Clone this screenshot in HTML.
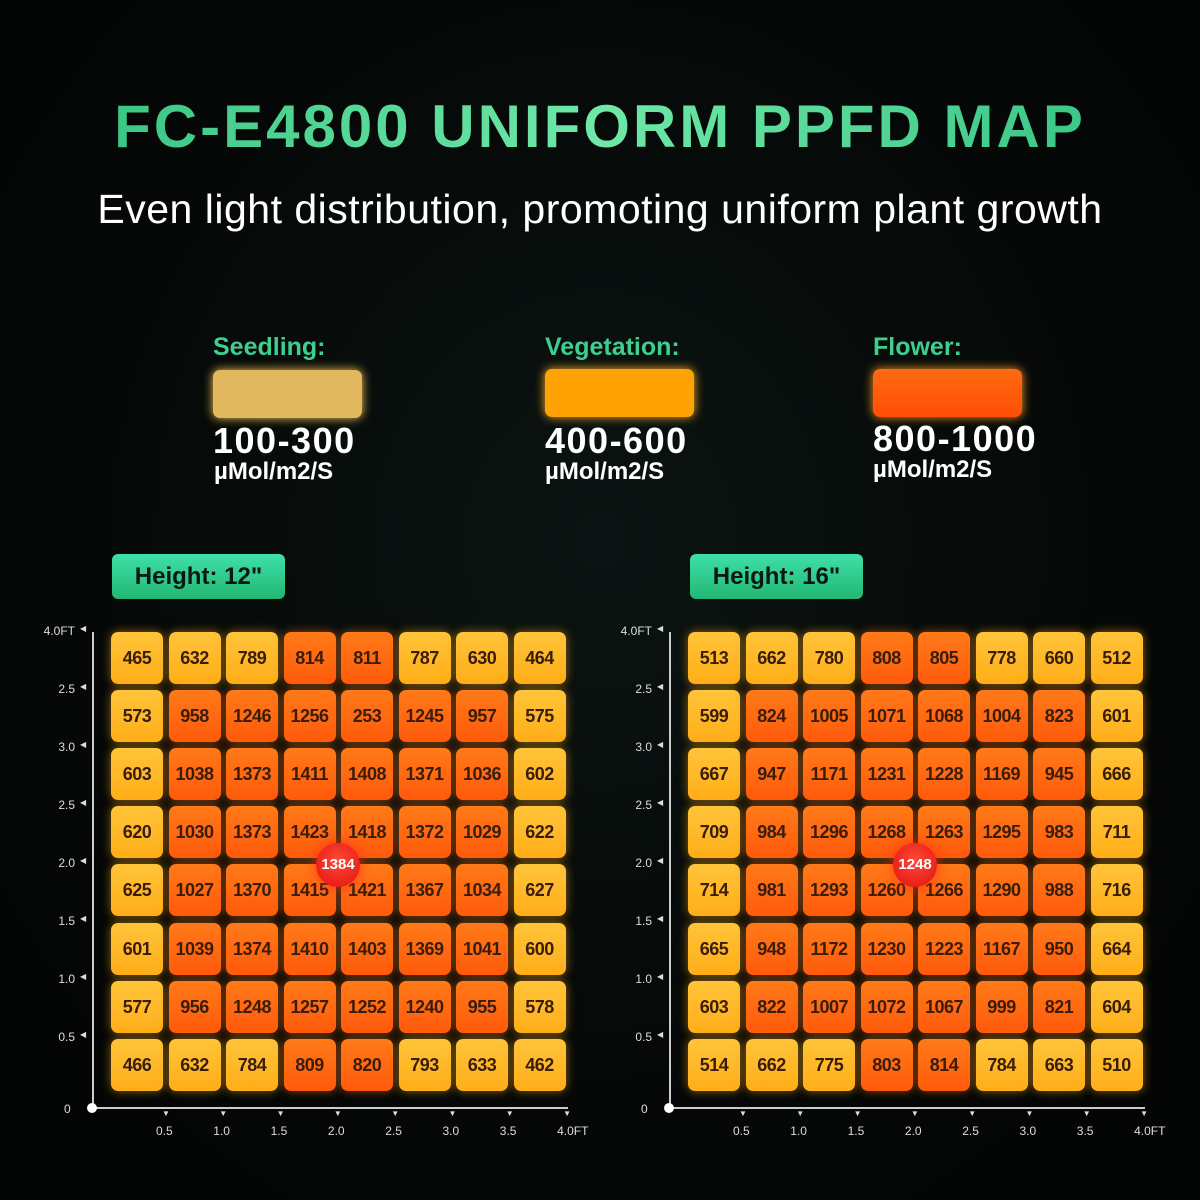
<!DOCTYPE html>
<html><head><meta charset="utf-8"><style>
*{margin:0;padding:0;box-sizing:border-box}
body{width:1200px;height:1200px;overflow:hidden;background:radial-gradient(ellipse at 50% 45%,#0b1412 0%,#050807 60%,#030504 100%);font-family:"Liberation Sans",sans-serif;position:relative}
.abs{position:absolute}
.title{left:0;width:1200px;top:92px;text-align:center;font-size:60px;font-weight:900;letter-spacing:3px;color:#3fd58f;background:linear-gradient(90deg,#2fbf7f,#6fe8a8,#2fbf7f);-webkit-background-clip:text;background-clip:text;-webkit-text-fill-color:transparent}
.sub{left:0;width:1200px;top:186px;text-align:center;font-size:41px;color:#fff;letter-spacing:0.5px}
.lh{font-size:25px;font-weight:900;color:#3ecf8e}
.lbox{width:149px;height:48px;border-radius:7px}
.lnum{font-size:36px;font-weight:900;color:#fff;letter-spacing:1.5px}
.lunit{font-size:24px;font-weight:900;color:#fff}
.badge{height:45px;width:173px;border-radius:6px;background:linear-gradient(180deg,#3fe0a8,#22b774);color:#0a1a12;font-size:24px;font-weight:700;text-align:center;line-height:45px}
.cell{position:absolute;width:52px;height:52px;border-radius:7px;font-size:18px;font-weight:700;color:#3a1d08;text-align:center;line-height:52px;letter-spacing:-0.5px}
.y{background:linear-gradient(180deg,#ffc43a,#ffae18);box-shadow:0 0 10px rgba(255,170,20,.55)}
.r{background:linear-gradient(180deg,#ff7a18,#ff5a0c);box-shadow:0 0 10px rgba(255,120,20,.55)}
.tick{position:absolute;font-size:12px;color:#ddd}
.dot{position:absolute;width:44px;height:44px;border-radius:50%;background:radial-gradient(circle at 50% 40%,#ff4a3a,#e0100c);color:#fff;font-size:15px;font-weight:700;text-align:center;line-height:44px;box-shadow:0 0 12px rgba(255,40,20,.8)}
</style></head><body>
<div class="abs title">FC-E4800 UNIFORM PPFD MAP</div>
<div class="abs sub">Even light distribution, promoting uniform plant growth</div>

<div class="abs lh" style="left:213px;top:333px">Seedling:</div>
<div class="abs lbox" style="left:213px;top:370px;background:#e2b85e;box-shadow:0 0 10px #ffcc55"></div>
<div class="abs lnum" style="left:213px;top:420px">100-300</div>
<div class="abs lunit" style="left:214px;top:458px">µMol/m2/S</div>

<div class="abs lh" style="left:545px;top:333px">Vegetation:</div>
<div class="abs lbox" style="left:545px;top:369px;background:#ffa305;box-shadow:0 0 10px #ffb020"></div>
<div class="abs lnum" style="left:545px;top:420px">400-600</div>
<div class="abs lunit" style="left:545px;top:458px">µMol/m2/S</div>

<div class="abs lh" style="left:873px;top:333px">Flower:</div>
<div class="abs lbox" style="left:873px;top:369px;background:linear-gradient(180deg,#ff6a10,#ff4e08);box-shadow:0 0 10px #ff9a20"></div>
<div class="abs lnum" style="left:873px;top:418px">800-1000</div>
<div class="abs lunit" style="left:873px;top:456px">µMol/m2/S</div>

<div class="abs badge" style="left:112px;top:554px">Height: 12"</div>
<div class="abs badge" style="left:690px;top:554px">Height: 16"</div>

<div id="g"></div>
<script>
var A=[[465,632,789,814,811,787,630,464],[573,958,1246,1256,253,1245,957,575],[603,1038,1373,1411,1408,1371,1036,602],[620,1030,1373,1423,1418,1372,1029,622],[625,1027,1370,1415,1421,1367,1034,627],[601,1039,1374,1410,1403,1369,1041,600],[577,956,1248,1257,1252,1240,955,578],[466,632,784,809,820,793,633,462]];
var B=[[513,662,780,808,805,778,660,512],[599,824,1005,1071,1068,1004,823,601],[667,947,1171,1231,1228,1169,945,666],[709,984,1296,1268,1263,1295,983,711],[714,981,1293,1260,1266,1290,988,716],[665,948,1172,1230,1223,1167,950,664],[603,822,1007,1072,1067,999,821,604],[514,662,775,803,814,784,663,510]];
var h='';
function grid(D,ox,c){
 for(var r=0;r<8;r++)for(var k=0;k<8;k++){var v=D[r][k];var red=(v>=800||(r==1&&k==4&&ox<300));
  h+='<div class="cell '+(red?'r':'y')+'" style="left:'+(ox+111+k*57.5)+'px;top:'+(632+r*58.1)+'px">'+v+'</div>';}
 h+='<div class="abs" style="left:'+(ox+92)+'px;top:632px;width:2px;height:477px;background:#ccc"></div>';
 h+='<div class="abs" style="left:'+(ox+92)+'px;top:1107px;width:476px;height:2px;background:#ccc"></div>';
 h+='<div class="abs" style="left:'+(ox+87)+'px;top:1103px;width:10px;height:10px;border-radius:50%;background:#fff"></div>';
 var yl=['4.0FT','2.5','3.0','2.5','2.0','1.5','1.0','0.5'];
 for(var i=0;i<8;i++){h+='<div class="tick" style="left:'+(ox+20)+'px;width:55px;text-align:right;top:'+(624+i*58)+'px">'+yl[i]+'</div>';
  h+='<div class="tick" style="left:'+(ox+80)+'px;top:'+(624+i*58)+'px;font-size:8px">&#9664;</div>';}
 h+='<div class="tick" style="left:'+(ox+64)+'px;top:1102px">0</div>';
 var xl=['0.5','1.0','1.5','2.0','2.5','3.0','3.5','4.0FT'];
 for(var i=0;i<8;i++){var x=ox+166+i*57.3;h+='<div class="tick" style="left:'+(x-4)+'px;top:1109px;font-size:8px">&#9660;</div>';
  h+='<div class="tick" style="left:'+(x-10)+'px;top:1124px">'+xl[i]+'</div>';}
 h+='<div class="dot" style="left:'+(ox+316)+'px;top:843px">'+c+'</div>';
}
grid(A,0,1384);grid(B,577,1248);
document.getElementById('g').innerHTML=h;
</script>
</body></html>
